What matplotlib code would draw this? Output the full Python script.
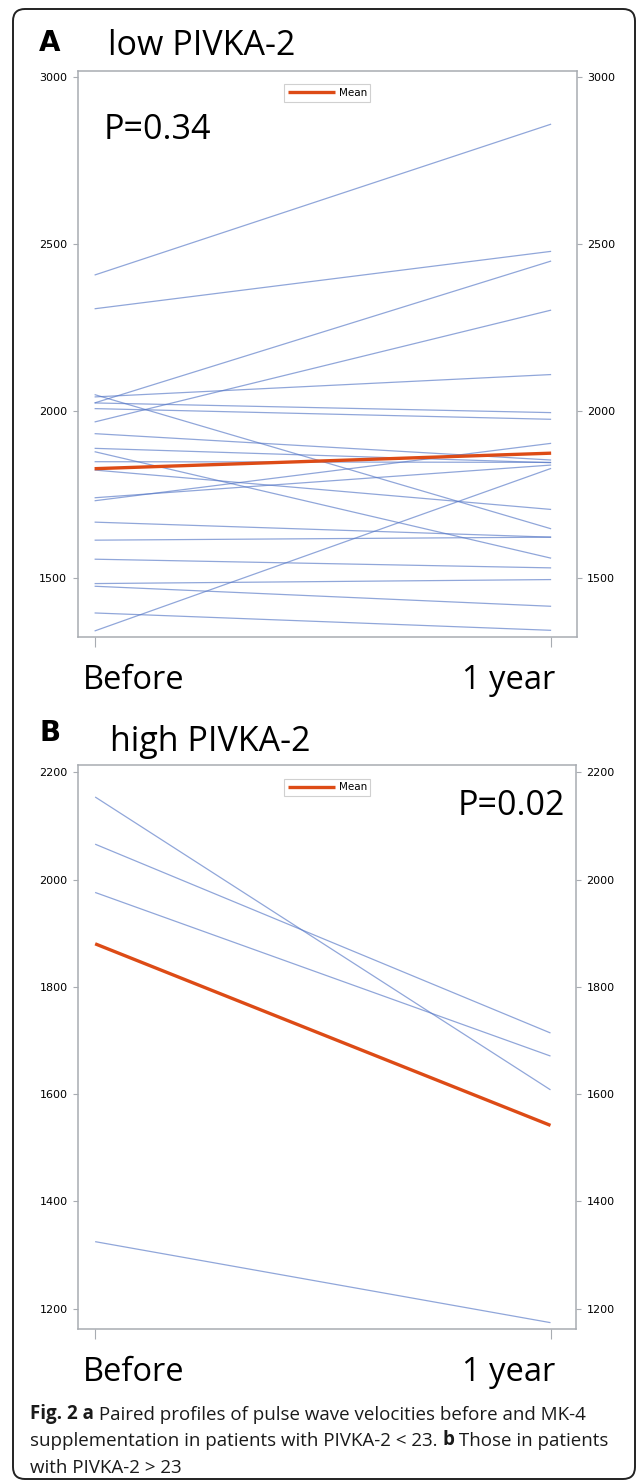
import numpy as np
import matplotlib.pyplot as plt
from matplotlib.patches import FancyBboxPatch

# pulse wave velocity, before and after 1 year of MK-4
low_before = [2406, 2305, 2023, 1966, 2041, 2048, 2023, 2006, 1931, 1887, 1877,
              1847, 1822, 1739, 1730, 1666, 1612, 1555, 1482, 1474, 1394, 1340]
low_after = [2858, 2477, 2448, 2301, 2108, 1646, 1994, 1974, 1852, 1844, 1558,
             1845, 1704, 1837, 1902, 1621, 1621, 1529, 1494, 1414, 1342, 1827]
high_before = [2154, 2066, 1976, 1325]
high_after = [1608, 1714, 1671, 1174]

time_points = [0, 1]
time_labels = ['Before', '1 year']
low_ticks = [1500, 2000, 2500, 3000]
high_ticks = [1200, 1400, 1600, 1800, 2000, 2200]

blue = '#5577c6'
orange = '#dd4b16'
frame_grey = '#a8acb2'
W, H = 638, 1483

fig = plt.figure(figsize=(W / 100, H / 100), dpi=100)

# overlay in pixel units for the border and the large labels
ov = fig.add_axes([0, 0, 1, 1], zorder=5)
ov.set_xlim(0, W)
ov.set_ylim(H, 0)
ov.set_axis_off()
ov.add_patch(FancyBboxPatch((13, 9), 622, 1470, boxstyle='round,pad=0,rounding_size=12',
                            fill=False, lw=1.4, ec='#222222'))


def px_rect(left, top, right, bottom):
    return [left / W, 1 - bottom / H, (right - left) / W, (bottom - top) / H]


def draw_panel(rect, before, after, ylim, yticks):
    ax = fig.add_axes(rect)
    for b, a in zip(before, after):
        ax.plot(time_points, [b, a], color=blue, lw=0.9, alpha=0.65, solid_capstyle='butt')
    ax.plot(time_points, [np.mean(before), np.mean(after)], color=orange, lw=2.4,
            label='Mean', solid_capstyle='butt')
    ax.set_xlim(-0.037, 1.056)
    ax.set_ylim(*ylim)
    ax.set_yticks(yticks)
    ax.set_xticks(time_points)
    ax.set_xticklabels([])
    for s in ax.spines.values():
        s.set_color(frame_grey)
        s.set_linewidth(1.1)
    ax.tick_params(axis='y', left=True, right=True, labelleft=True, labelright=True,
                   length=3.6, width=0.8, color=frame_grey, pad=4, labelsize=8)
    ax.tick_params(axis='x', length=7, width=0.8, color=frame_grey)
    leg = ax.legend(loc='upper center', bbox_to_anchor=(0.5, 0.985), fontsize=7.5,
                    handlelength=4.6, handletextpad=0.3, borderpad=0.35,
                    fancybox=False, framealpha=1)
    leg.get_frame().set_edgecolor('#d0d0d0')
    leg.get_frame().set_linewidth(0.8)
    return ax


axA = draw_panel(px_rect(77.7, 70.7, 576.7, 637), low_before, low_after, (1322, 3018), low_ticks)
axB = draw_panel(px_rect(78.3, 765, 576, 1329.3), high_before, high_after, (1161.6, 2213.6), high_ticks)

big = dict(family='Open Sans', fontsize=24.5, va='baseline', color='black')
xlab = dict(big, fontsize=23.5)
letter = dict(fontsize=20, fontweight='bold', family='DejaVu Sans', va='baseline')
ov.text(39, 51, 'A', **letter)
ov.text(108, 55, 'low PIVKA-2', **big)
ov.text(104, 139, 'P=0.34', **big)
ov.text(83, 689, time_labels[0], **xlab)
ov.text(555, 689, time_labels[1], ha='right', **xlab)

ov.text(40, 741, 'B', **letter)
ov.text(110, 751, 'high PIVKA-2', **big)
ov.text(565, 815, 'P=0.02', ha='right', **big)
ov.text(83, 1381, time_labels[0], **xlab)
ov.text(555, 1381, time_labels[1], ha='right', **xlab)

# caption with bold fragments
cap = dict(family='Open Sans', fontsize=13.5, va='baseline', color='#1a1a1a')
lines = [
    [('Fig. 2 a', 'bold'), (' Paired profiles of pulse wave velocities before and MK-4', 'normal')],
    [('supplementation in patients with PIVKA-2 < 23. ', 'normal'), ('b', 'bold'),
     (' Those in patients', 'normal')],
    [('with PIVKA-2 > 23', 'normal')],
]
for i, parts in enumerate(lines):
    y = 1419 + 27 * i
    prev = None
    for txt, weight in parts:
        if prev is None:
            prev = ov.text(30, y, txt, fontweight=weight, **cap)
        else:
            prev = ov.annotate(txt, xy=(1, 0), xycoords=prev, fontweight=weight,
                               family=cap['family'], fontsize=cap['fontsize'],
                               va='bottom', color=cap['color'])

fig.savefig('out.png', dpi=100)
